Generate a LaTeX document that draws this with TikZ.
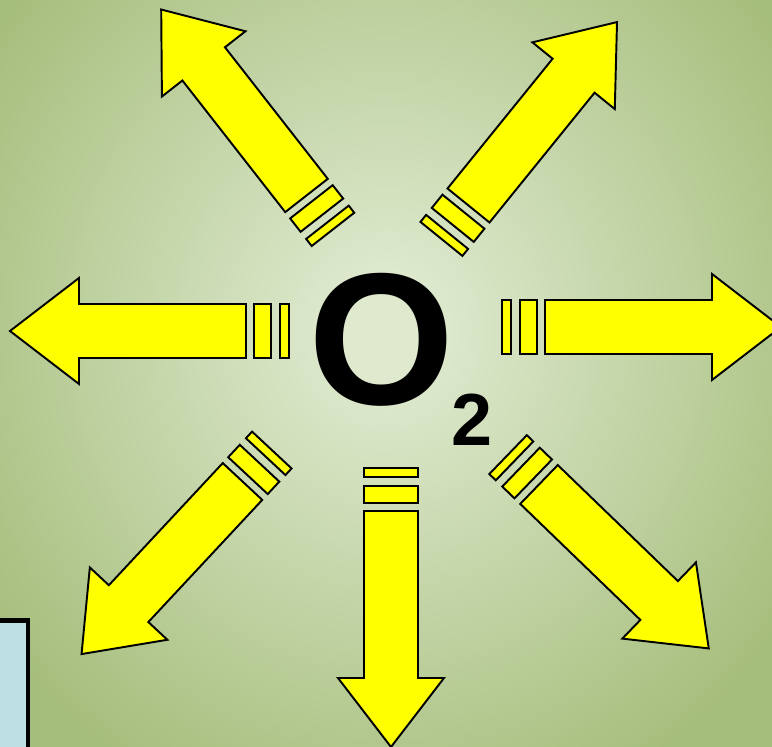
\documentclass[tikz,border=0pt]{standalone}
\usepackage{xcolor}
\usepackage{fontspec}
\setmainfont{Liberation Sans}
\definecolor{glowin}{RGB}{222,233,206}
\definecolor{glowout}{RGB}{166,190,124}
\definecolor{arrowfill}{RGB}{255,255,0}
\definecolor{sidefill}{RGB}{189,224,228}
\pgfdeclareradialshading{o2glow}{\pgfpoint{0bp}{0bp}}{%
  color(0bp)=(glowin); color(3bp)=(glowin); color(30bp)=(glowout); color(50bp)=(glowout)}

\begin{document}
\begin{tikzpicture}[
  x=0.02cm, y=0.02cm,
  arrowbody/.style={draw=black, line width=1.1pt, fill=arrowfill},
  sidebox/.style={draw=black, line width=2.8pt, fill=sidefill},
  bigletter/.style={anchor=base, inner sep=0pt, font=\fontsize{107}{107}\selectfont\bfseries},
  smalldigit/.style={anchor=base, inner sep=0pt, font=\fontsize{42}{42}\selectfont\bfseries},
  pics/outarrow/.style={code={
    \draw[arrowbody] (0,-27) -- (167,-27) -- (167,-53) -- (236,0) -- (167,53) -- (167,27) -- (0,27) -- cycle;
    \draw[arrowbody] (-8,-27) rectangle (-25,27);
    \draw[arrowbody] (-34,-27) rectangle (-43,27);
  }}
]
\useasboundingbox (0,0) rectangle (772,747);
\clip (0,0) rectangle (772,747);

% background glow
\shade[shading=o2glow] (-14,-10) rectangle (786,844);

% arrows pointing outwards
\pic[rotate=128] at (306.5,551.5) {outarrow};
\pic[rotate=51]  at (468.5,541.5) {outarrow};
\pic[rotate=180] at (246,416)     {outarrow};
\pic             at (545,420)     {outarrow};
\pic[rotate=227] at (242.5,265.5) {outarrow};
\pic[rotate=270] at (391,236)     {outarrow};
\pic[rotate=316] at (539,262.5)   {outarrow};

% formula
\node[bigletter] (oxygen) at (381.5,342) {O};
\node[smalldigit] (subtwo) at (472.5,301) {2};

% box cut off at the lower left
\draw[sidebox] (-20,-20) rectangle (28,126.5);

\end{tikzpicture}
\end{document}
